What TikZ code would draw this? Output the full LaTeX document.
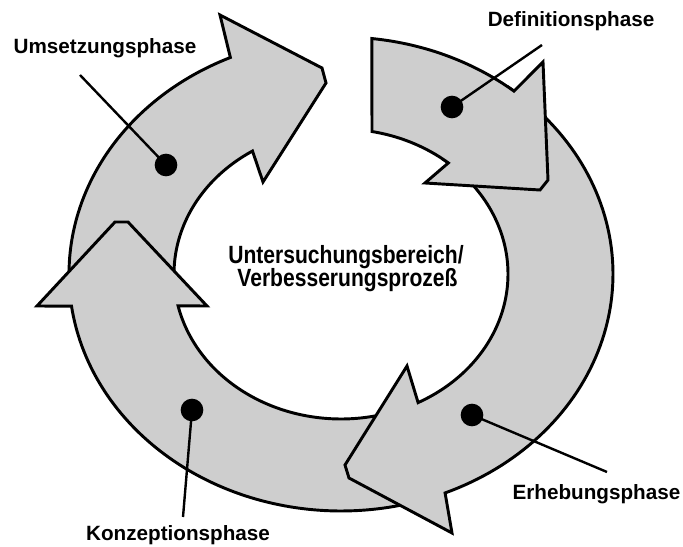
\documentclass[tikz,border=0pt]{standalone}
\usepackage{fontspec}
\setmainfont{Liberation Sans}
\newfontfamily\narrowsans{Liberation Sans}[FakeStretch=0.845]
\definecolor{bandgray}{RGB}{206,206,206}
\begin{document}
\begin{tikzpicture}[x=0.75pt,y=0.75pt,
  band/.style={fill=bandgray, draw=black, line width=2.2pt, line join=miter},
  leader/.style={draw=black, line width=1.8pt},
  dot/.style={circle, fill=black, inner sep=0pt, minimum size=17pt},
  phase/.style={font=\bfseries\fontsize{15.5}{18}\selectfont, inner sep=0pt, anchor=base},
  centertext/.style={font=\narrowsans\bfseries\fontsize{18.7}{22}\selectfont, inner sep=0pt, anchor=base}]
\useasboundingbox (0,0) rectangle (683,547);
% ring geometry: centre and outer/inner half axes
\def\cx{341}\def\cy{273}
\def\ao{272}\def\bo{237}
\def\ai{167}\def\bi{145}
% Umsetzung (left, pointing up to the right)
\draw[band] plot[domain=187:114, samples=60] ({\cx+\ao*cos(\x)},{\cy+\bo*sin(\x)})
  -- (220,532) -- (322,479) -- (326,464) -- (263,365)
  -- plot[domain=122:185, samples=60] ({\cx+\ai*cos(\x)},{\cy+\bi*sin(\x)}) -- cycle;
% Konzeption (bottom left, pointing up)
\draw[band] plot[domain=-75:-172.2, samples=80] ({\cx+\ao*cos(\x)},{\cy+\bo*sin(\x)})
  -- (37,241) -- (115,325) -- (128,325) -- (207,241)
  -- plot[domain=-167.3:-75, samples=80] ({\cx+\ai*cos(\x)},{\cy+\bi*sin(\x)}) -- cycle;
% Erhebung (right, pointing down to the left)
\draw[band] plot[domain=52:-67.5, samples=80] ({\cx+\ao*cos(\x)},{\cy+\bo*sin(\x)})
  -- (452,14) -- (349,69) -- (345,82) -- (407,181)
  -- plot[domain=-62.5:52, samples=80] ({\cx+\ai*cos(\x)},{\cy+\bi*sin(\x)}) -- cycle;
% Definition (top right, pointing down to the right)
\draw[band] plot[domain=83.5:50.5, samples=40] ({\cx+\ao*cos(\x)},{\cy+\bo*sin(\x)})
  -- (543,485) -- (548,367) -- (540,357) -- (425,364)
  -- plot[domain=50:79.3, samples=40] ({\cx+\ai*cos(\x)},{\cy+\bi*sin(\x)}) -- cycle;
% centre text
\node[centertext] (ctrA) at (346,283.7) {Untersuchungsbereich/};
\node[centertext] (ctrB) at (347.5,260.3) {Verbesserungsprozeß};
% phase labels
\node[phase] (lblU) at (105,493.7) {Umsetzungsphase};
\node[phase] (lblD) at (571,520.3) {Definitionsphase};
\node[phase] (lblK) at (178,6.3) {Konzeptionsphase};
\node[phase] (lblE) at (596.5,47) {Erhebungsphase};
% leader ends
\coordinate (endU) at (80,472);
\coordinate (endD) at (542,502);
\coordinate (endK) at (183,30);
\coordinate (endE) at (607,75);
% dots
\node[dot] (dotU) at (166,382) {};
\node[dot] (dotD) at (452,440) {};
\node[dot] (dotK) at (192,137) {};
\node[dot] (dotE) at (472,132) {};
\draw[leader] (dotU.center) -- (endU);
\draw[leader] (dotD.center) -- (endD);
\draw[leader] (dotK.center) -- (endK);
\draw[leader] (dotE.center) -- (endE);
\end{tikzpicture}
\end{document}
